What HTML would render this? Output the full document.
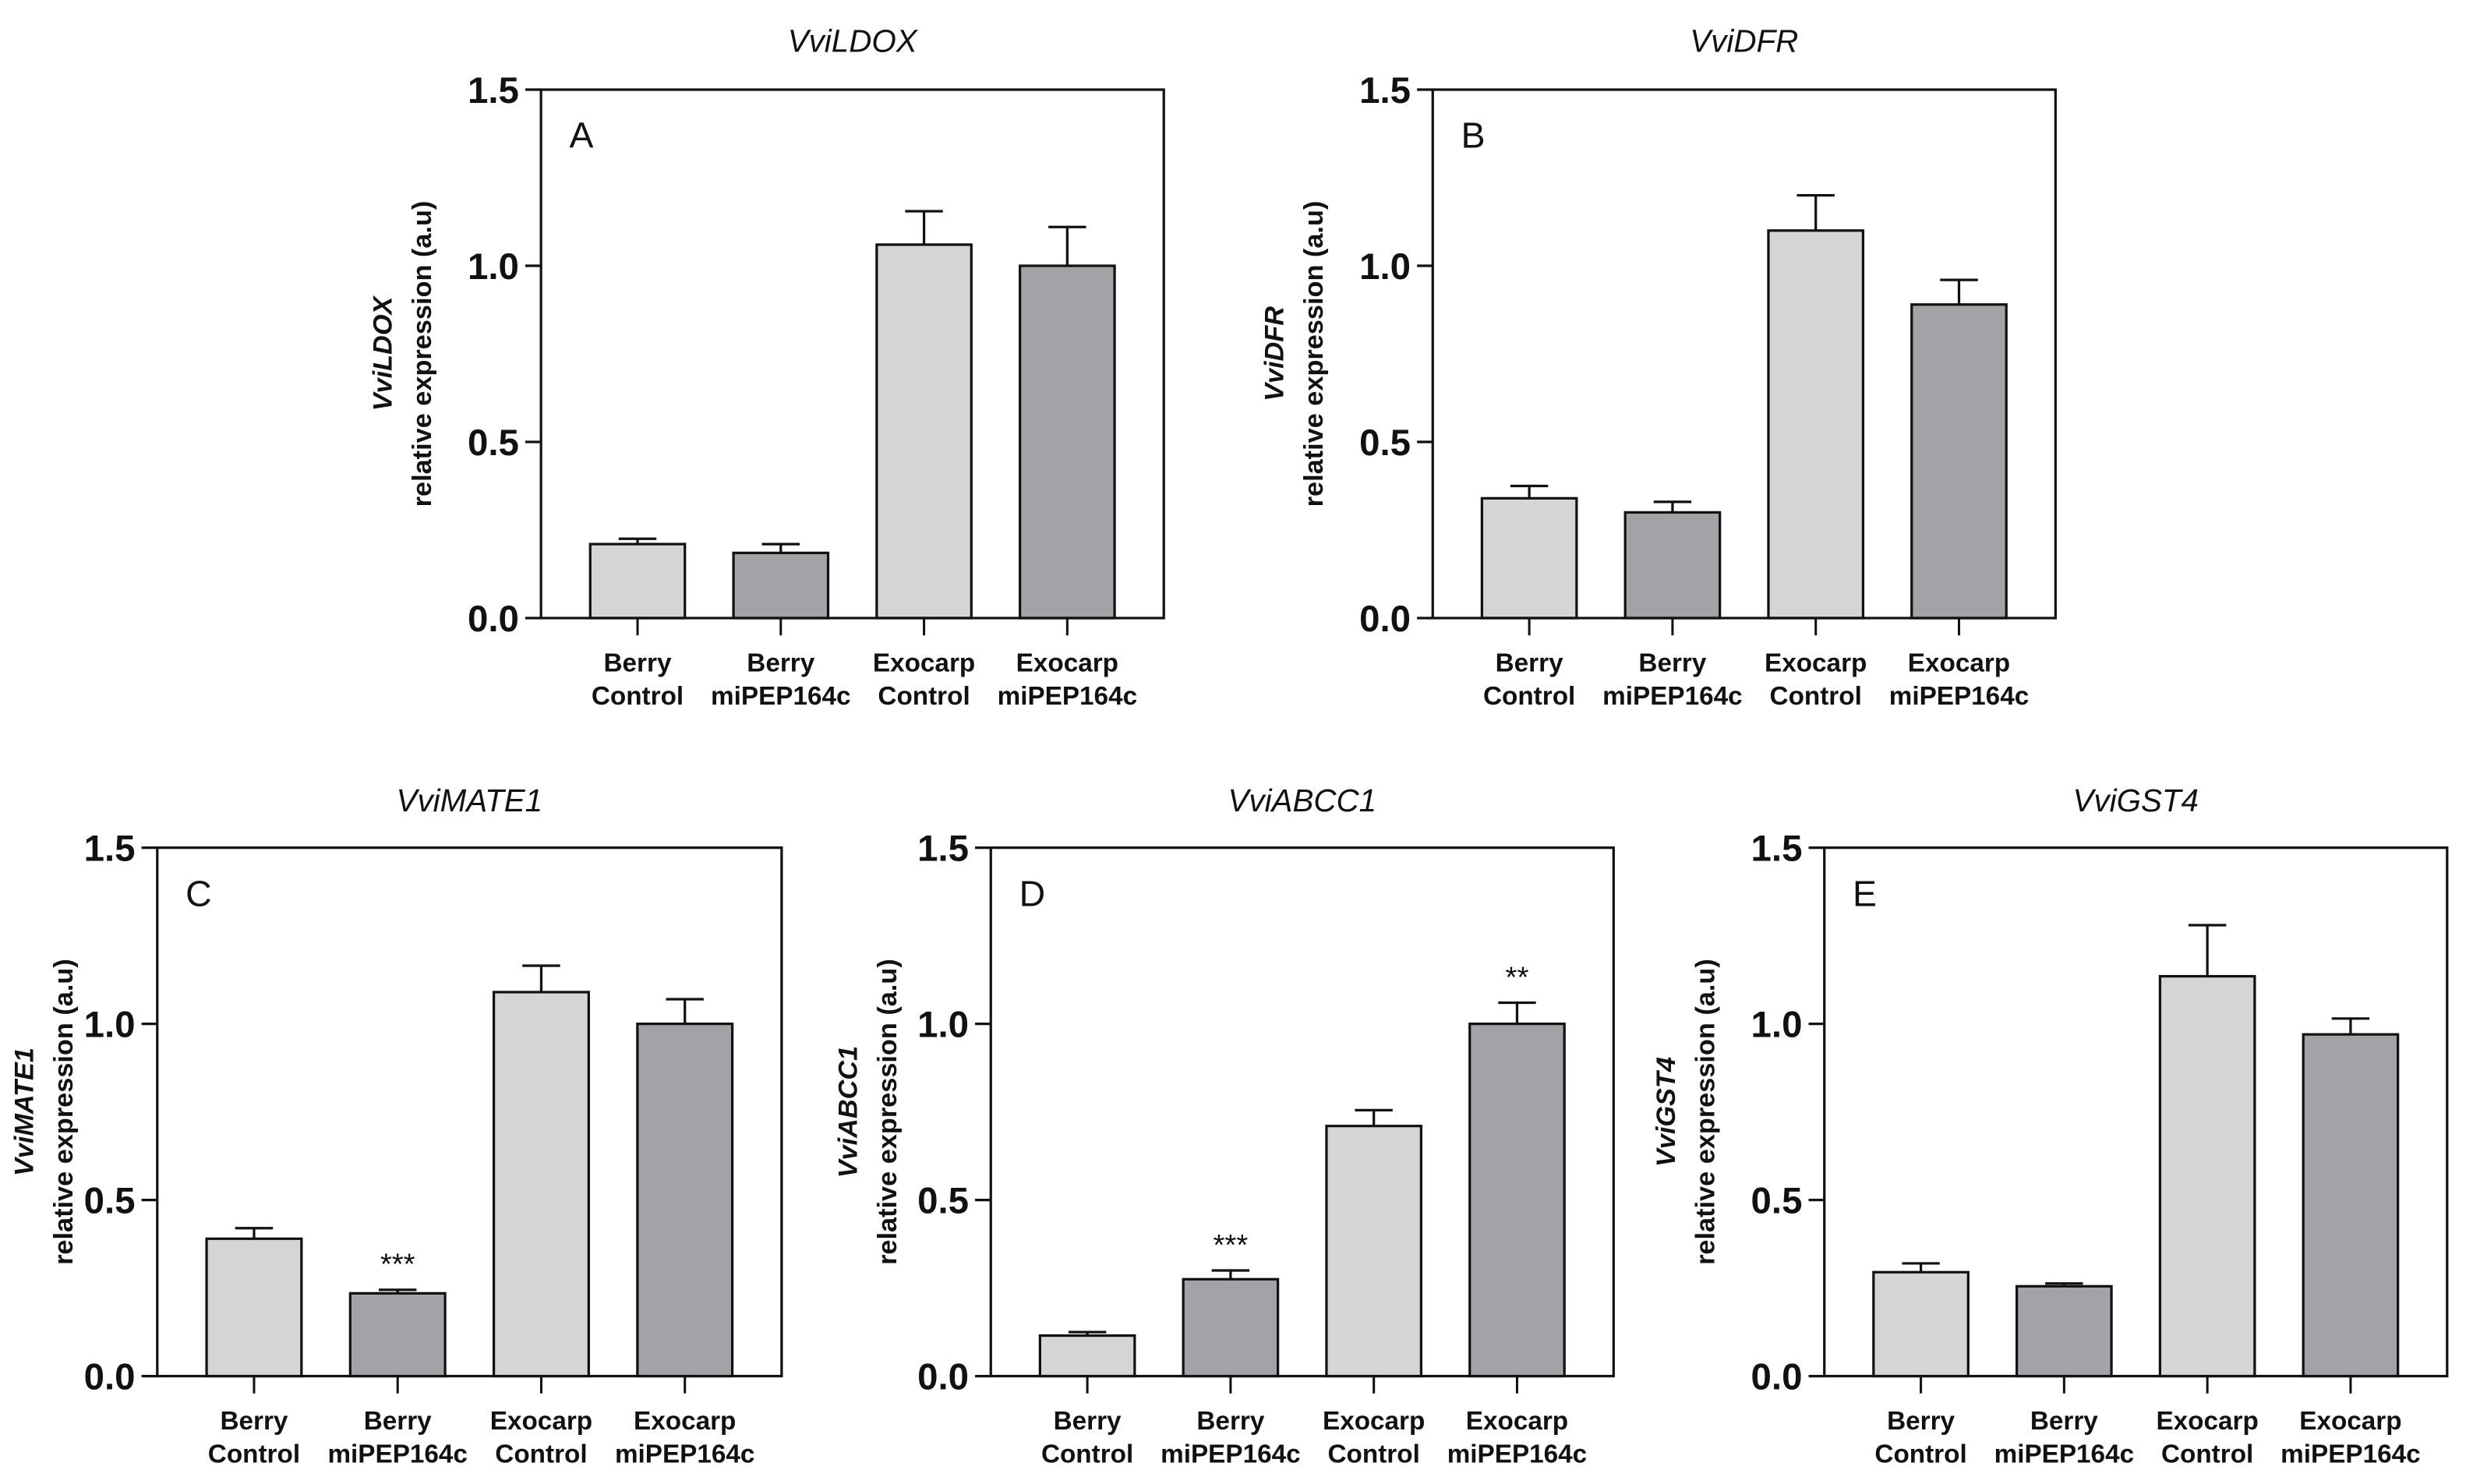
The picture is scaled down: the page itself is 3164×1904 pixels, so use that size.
<!DOCTYPE html>
<html><head><meta charset="utf-8"><style>
html,body{margin:0;padding:0;background:#fff;}
svg{display:block;}
text{font-family:"Liberation Sans",sans-serif;}
</style></head><body>
<svg id="fig" width="3164" height="1904" viewBox="0 0 1568 943.6" preserveAspectRatio="none" xmlns="http://www.w3.org/2000/svg"></svg>
<script>
const categories = [["Berry","Control"],["Berry","miPEP164c"],["Exocarp","Control"],["Exocarp","miPEP164c"]];
const yTicks = [0.0, 0.5, 1.0, 1.5];
const tickLabels = ["0.0","0.5","1.0","1.5"];
const genes = ["VviLDOX","VviDFR","VviMATE1","VviABCC1","VviGST4"];
const letters = ["A","B","C","D","E"];
const valsA = [0.21, 0.185, 1.06, 1.0];
const errA = [0.015, 0.025, 0.095, 0.11];
const valsB = [0.34, 0.30, 1.10, 0.89];
const errB = [0.035, 0.03, 0.10, 0.07];
const valsC = [0.39, 0.235, 1.09, 1.0];
const errC = [0.03, 0.01, 0.075, 0.07];
const valsD = [0.115, 0.275, 0.71, 1.0];
const errD = [0.01, 0.025, 0.045, 0.06];
const valsE = [0.295, 0.255, 1.135, 0.97];
const errE = [0.025, 0.008, 0.145, 0.045];
const starsC = ["", "***", "", ""];
const starsD = ["", "***", "", "**"];
const starsE = ["", "", "", ""];
const starsAB = ["", "", "", ""];

const NS="http://www.w3.org/2000/svg";
const svg=document.getElementById('fig');
function mk(tag,attrs,parent){const e=document.createElementNS(NS,tag);for(const k in attrs)e.setAttribute(k,attrs[k]);(parent||svg).appendChild(e);return e;}

const panels=[
 {l:344,r:740,t:57,b:393,vals:valsA,err:errA,stars:starsAB,yo:101},
 {l:911,r:1307,t:57,b:393,vals:valsB,err:errB,stars:starsAB,yo:101},
 {l:100,r:497,t:539,b:875,vals:valsC,err:errC,stars:starsC,yo:85},
 {l:630,r:1026,t:539,b:875,vals:valsD,err:errD,stars:starsD,yo:91},
 {l:1160,r:1556,t:539,b:875,vals:valsE,err:errE,stars:starsE,yo:101}
];
const fills=["#d5d5d5","#a3a3a7","#d5d5d5","#a3a3a7"];

panels.forEach((p,pi)=>{
  const g=mk('g',{});
  
  
  const y=v=>p.b-(v/1.5)*(p.b-p.t);
  const w=p.r-p.l;
  const xc=i=>p.l+w*(0.155+0.23*i);
  const bw=w*0.152;
  p.vals.forEach((v,i)=>{
    const r=mk('rect',{x:xc(i)-bw/2,y:y(v),width:bw,height:p.b-y(v),fill:fills[i],stroke:'#111','stroke-width':1.6},g);
    
    
    const e=mk('path',{d:`M${xc(i)} ${y(v)}V${y(v+p.err[i])}M${xc(i)-12} ${y(v+p.err[i])}H${xc(i)+12}`,stroke:'#111','stroke-width':1.6,fill:'none'},g);
    
    
    if(p.stars[i]){
      const s=mk('text',{x:xc(i),y:y(v+p.err[i])-10,'font-size':19,'text-anchor':'middle',fill:'#111'},g);
      s.textContent=p.stars[i];
      
      
    }
    mk('line',{x1:xc(i),x2:xc(i),y1:p.b,y2:p.b+11,stroke:'#111','stroke-width':1.5},g);
    const t=mk('text',{x:xc(i),y:p.b+34,'font-size':16.5,'font-weight':'bold','text-anchor':'middle',fill:'#111'},g);
    
    
    const s1=mk('tspan',{x:xc(i)},t);s1.textContent=categories[i][0];
    const s2=mk('tspan',{x:xc(i),dy:21},t);s2.textContent=categories[i][1];
  });
  const fr=mk('rect',{x:p.l,y:p.t,width:w,height:p.b-p.t,fill:'none',stroke:'#111','stroke-width':1.6},g);
  
  
  yTicks.forEach((v,k)=>{
    mk('line',{x1:p.l-10,x2:p.l,y1:y(v),y2:y(v),stroke:'#111','stroke-width':1.6},g);
    const t=mk('text',{x:p.l-14,y:y(v)+8.5,'font-size':23.5,'font-weight':'bold','text-anchor':'end',fill:'#111'},g);
    t.textContent=tickLabels[k];
    
    
  });
  const ti=mk('text',{x:p.l+w/2,y:p.t-(pi<2?24:23),'font-size':20,'font-style':'italic','text-anchor':'middle',fill:'#111'},g);
  ti.textContent=genes[pi];
  
  
  const le=mk('text',{x:p.l+18,y:p.t+37,'font-size':23,fill:'#111'},g);
  le.textContent=letters[pi];
  
  
  const cy=(p.t+p.b)/2;
  const yl=mk('text',{transform:`translate(${p.l-p.yo+6},${cy}) rotate(-90)`,'font-size':17,'font-weight':'bold','text-anchor':'middle',fill:'#111'},g);
  
  
  const a=mk('tspan',{x:0,y:0,'font-style':'italic'},yl);a.textContent=genes[pi];
  const b=mk('tspan',{x:0,y:25},yl);b.textContent='relative expression (a.u)';
});
</script>
</body></html>
